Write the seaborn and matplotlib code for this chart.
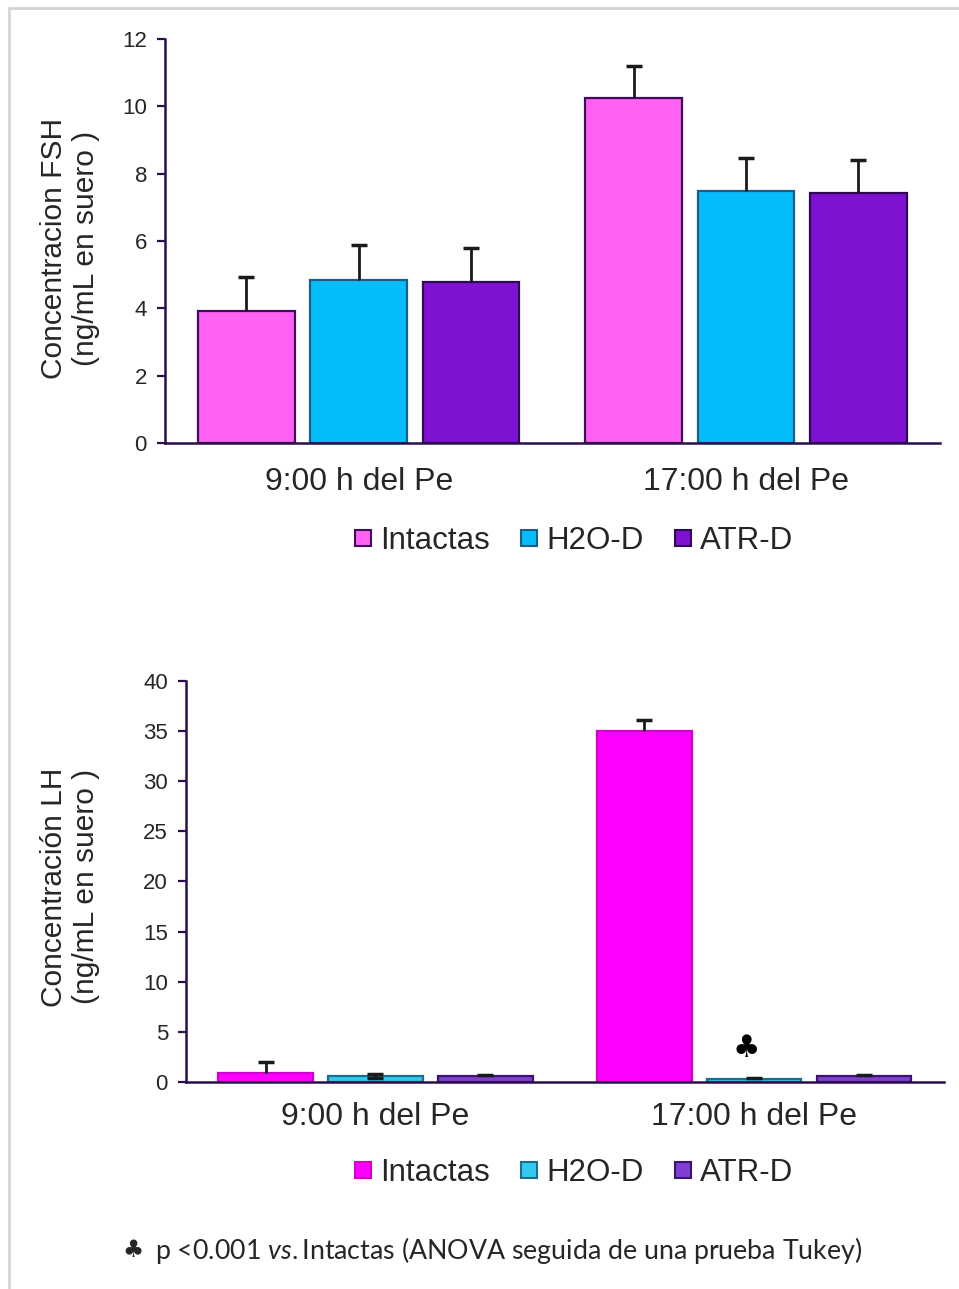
import numpy as np
import pandas as pd
import matplotlib
matplotlib.use("Agg")
import matplotlib.pyplot as plt
from matplotlib.lines import Line2D
import seaborn as sb

# data
groups = ["Intactas", "H2O-D", "ATR-D"]
times = ["9:00 h del Pe", "17:00 h del Pe"]

fsh_mean = {"Intactas": [3.92, 10.25], "H2O-D": [4.84, 7.48], "ATR-D": [4.78, 7.42]}
fsh_err = {"Intactas": [1.0, 0.95], "H2O-D": [1.03, 0.98], "ATR-D": [1.01, 1.0]}
fsh_err_low = {"Intactas": [0, 0], "H2O-D": [0, 0], "ATR-D": [0, 0]}

lh_mean = {"Intactas": [0.87, 35.0], "H2O-D": [0.6, 0.33], "ATR-D": [0.6, 0.6]}
lh_err = {"Intactas": [1.1, 1.1], "H2O-D": [0.23, 0.1], "ATR-D": [0.1, 0.1]}
lh_err_low = {"Intactas": [0, 0], "H2O-D": [0.2, 0], "ATR-D": [0, 0]}

fsh_colors = ["#ff62f0", "#04bcf9", "#7e12d0"]
lh_colors = ["#ff00ff", "#33c9ef", "#7f3fd2"]
fsh_edges = ["#3b0d5c", "#1c5d86", "#2e0a55"]
lh_edges = ["#d000d0", "#1b6f8c", "#3a1470"]

axis_col = "#2a0f4a"

sb.set_style("white")
plt.rcParams["font.family"] = ["Liberation Sans", "DejaVu Sans"]
plt.rcParams["mathtext.fontset"] = "custom"
plt.rcParams["mathtext.rm"] = "Lato"
plt.rcParams["mathtext.it"] = "Lato:italic"

fig = plt.figure(figsize=(9.59, 12.89), dpi=100)


def to_df(means):
    rows = []
    for g in groups:
        for t, v in zip(times, means[g]):
            rows.append({"time": t, "group": g, "value": v})
    return pd.DataFrame(rows)


def draw(ax, means, errs, errs_low, colors, edges, ymax, ystep, xpad):
    df = to_df(means)
    sb.barplot(data=df, x="time", y="value", hue="group", order=times,
               hue_order=groups, palette=colors, saturation=1, width=0.87,
               gap=0.14, errorbar=None, legend=False, ax=ax, linewidth=1.6)
    for cont, g, ec in zip(ax.containers, groups, edges):
        for i, bar in enumerate(cont):
            bar.set_edgecolor(ec)
            x = bar.get_x() + bar.get_width() / 2
            lo = errs_low[g][i]
            _, caps, _ = ax.errorbar([x], [bar.get_height()],
                                     yerr=[[lo], [errs[g][i]]], fmt="none",
                                     ecolor="#1a1a1a", elinewidth=2,
                                     capsize=6, capthick=2.5, zorder=1)
            # no lower cap sitting on the bar top
            if lo == 0:
                caps[0].set_visible(False)
    ax.set_xlim(-0.5, 1.5)
    ax.set_ylim(0, ymax)
    ax.set_yticks(np.arange(0, ymax + 0.1, ystep))
    ax.set_xlabel("")
    ax.set_ylabel("")
    sb.despine(ax=ax)
    for s in ["left", "bottom"]:
        ax.spines[s].set_color(axis_col)
        ax.spines[s].set_linewidth(1.8)
    ax.tick_params(axis="y", which="major", left=True, length=6, width=1.6,
                   color=axis_col, labelsize=16, pad=7)
    ax.tick_params(axis="x", bottom=False, labelsize=23, pad=xpad)


ax1 = fig.add_axes([0.172, 0.6563, 0.808, 0.3134])
draw(ax1, fsh_mean, fsh_err, fsh_err_low, fsh_colors, fsh_edges, 12, 2, 14)

ax2 = fig.add_axes([0.194, 0.1606, 0.790, 0.3111])
draw(ax2, lh_mean, lh_err, lh_err_low, lh_colors, lh_edges, 40, 5, 11)

# significance mark above H2O-D at 17:00
h2o_bar = ax2.containers[1][1]
ax2.text(h2o_bar.get_x() + h2o_bar.get_width() / 2 - 0.02, 3.3, "\u2663",
         ha="center", va="center", fontsize=22, color="black",
         family="DejaVu Sans")

fig.text(0.073, 0.807, "Concentracion FSH\n(ng/mL en suero )", rotation=90,
         ha="center", va="center", multialignment="center", fontsize=21.5,
         linespacing=1.15)
fig.text(0.073, 0.312, "Concentraci\u00f3n LH\n(ng/mL en suero )", rotation=90,
         ha="center", va="center", multialignment="center", fontsize=21.5,
         linespacing=1.15)


def legend(colors, edges, y):
    handles = [Line2D([], [], marker="s", linestyle="none", markersize=12,
                      markerfacecolor=c, markeredgecolor=e, markeredgewidth=1.5)
               for c, e in zip(colors, edges)]
    fig.legend(handles, groups, loc="center", bbox_to_anchor=(0.597, y),
               ncol=3, frameon=False, fontsize=22.5, handlelength=0.7,
               handletextpad=0.2, columnspacing=0.9)


legend(fsh_colors, fsh_edges, 0.580)
legend(lh_colors, lh_edges, 0.090)

# footnote
fig.text(0.139, 0.030, "\u2663", ha="center", va="center", fontsize=17,
         family="DejaVu Sans")
fig.text(0.162, 0.030, "p <0.001 $\\it{vs.}$Intactas (ANOVA seguida de una prueba Tukey)",
         ha="left", va="center", fontsize=19.3, family="Lato")

# light frame at left and top
fig.add_artist(Line2D([0.009, 0.009], [0, 0.994], transform=fig.transFigure,
                      color="#d4d4d4", linewidth=2))
fig.add_artist(Line2D([0.009, 1.0], [0.994, 0.994], transform=fig.transFigure,
                      color="#d4d4d4", linewidth=2))

fig.savefig("out.png", dpi=100)
